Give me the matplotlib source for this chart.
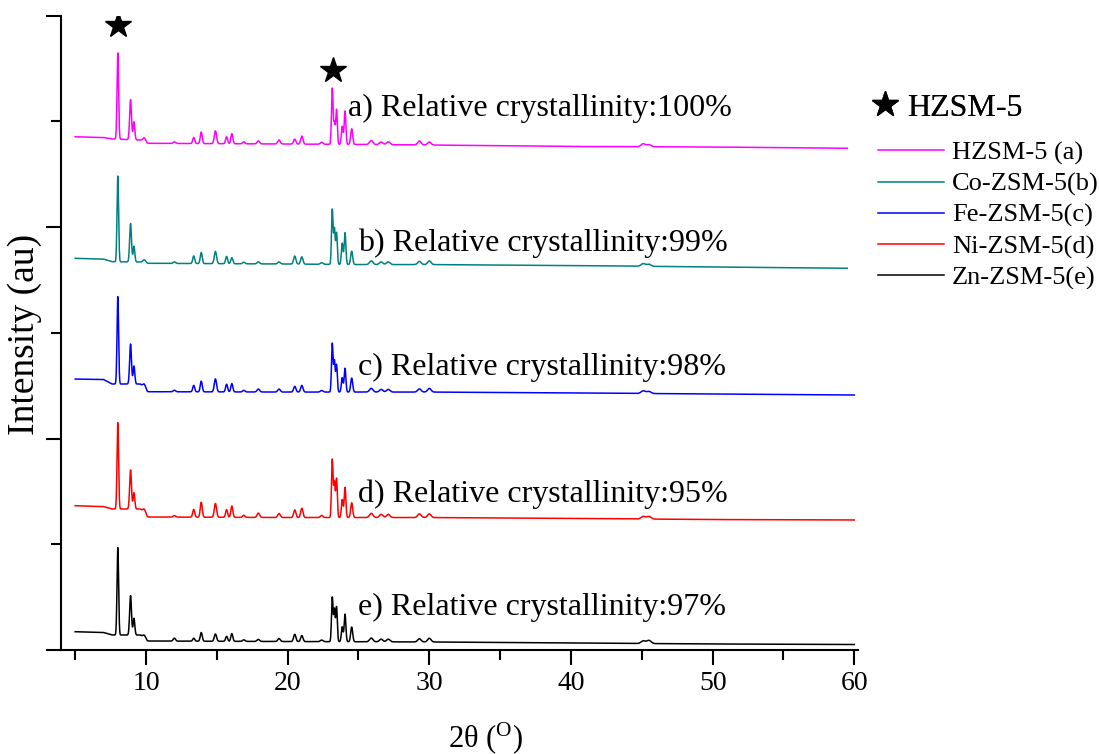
import numpy as np
import matplotlib.pyplot as plt
from matplotlib.lines import Line2D
from matplotlib.ticker import MultipleLocator

plt.rcParams['font.family'] = 'Liberation Serif'
plt.rcParams['mathtext.fontset'] = 'custom'
plt.rcParams['mathtext.rm'] = 'Liberation Serif'

# reflections (2theta in deg) and their widths (sigma, deg)
peak_pos = [8.01, 8.91, 9.15, 9.88, 12.0, 13.37, 13.9, 14.9, 15.69, 16.06, 16.9, 17.93, 19.39, 20.5, 21.0, 22.4,
            23.15, 23.30, 23.45, 23.85, 24.05, 24.52, 25.9, 26.6, 27.1, 29.3, 30.0, 45.1, 45.5]
peak_sig = [0.055, 0.065, 0.06, 0.1, 0.08, 0.07, 0.07, 0.08, 0.07, 0.07, 0.08, 0.09, 0.09, 0.08, 0.08, 0.09,
            0.055, 0.05, 0.055, 0.06, 0.06, 0.07, 0.12, 0.12, 0.12, 0.12, 0.12, 0.15, 0.15]

# peak heights above background for each sample (offset patterns)
h_a = [816, 378, 170, 38, 15, 57, 109, 121, 66, 95, 19, 28, 38, 47, 76, 19, 530, 200, 330, 170, 315, 148, 38, 25, 28, 38, 28, 28, 20]
h_b = [811, 363, 149, 28, 15, 72, 104, 116, 69, 57, 15, 19, 19, 76, 69, 15, 520, 330, 300, 200, 300, 126, 35, 25, 25, 30, 35, 25, 20]
h_c = [826, 378, 170, 40, 15, 61, 101, 123, 73, 79, 15, 28, 28, 54, 63, 15, 460, 290, 260, 135, 225, 132, 35, 25, 25, 30, 35, 25, 20]
h_d = [816, 369, 154, 40, 15, 73, 142, 130, 73, 107, 20, 41, 38, 73, 88, 20, 550, 330, 370, 170, 285, 139, 40, 30, 30, 35, 35, 25, 25]
h_e = [826, 372, 158, 30, 28, 28, 82, 69, 47, 73, 15, 19, 28, 69, 57, 15, 420, 300, 330, 140, 260, 139, 35, 25, 25, 30, 35, 25, 30]

# background level (2theta, intensity incl. stacking offset)
bg_a_x = [5, 7, 7.6, 9.6, 10.1, 20, 25, 30, 40, 50, 59.5]
bg_a_y = [4855, 4848, 4834, 4824, 4793, 4786, 4782, 4777, 4763, 4758, 4746]
bg_b_x = [5, 7, 7.6, 9.6, 10.1, 20, 25, 30, 40, 50, 59.5]
bg_b_y = [3705, 3698, 3673, 3670, 3658, 3651, 3646, 3646, 3637, 3623, 3611]
bg_c_x = [5, 7, 7.6, 9.6, 10.1, 20, 30, 40, 50, 60]
bg_c_y = [2563, 2559, 2516, 2516, 2443, 2440, 2440, 2431, 2422, 2412]
bg_d_x = [5, 7, 7.6, 9.6, 10.1, 20, 30, 40, 50, 60]
bg_d_y = [1365, 1357, 1334, 1334, 1258, 1253, 1253, 1244, 1234, 1230]
bg_e_x = [5, 7, 7.6, 9.6, 10.1, 20, 30, 40, 50, 60]
bg_e_y = [173, 166, 142, 142, 85, 80, 76, 66, 57, 52]

names = ['HZSM-5 (a)', 'Co-ZSM-5(b)', 'Fe-ZSM-5(c)', 'Ni-ZSM-5(d)', 'Zn-ZSM-5(e)']
colors = ['#ff00ff', '#008080', '#0000ff', '#ff0000', '#000000']
crystallinity = [100, 99, 98, 95, 97]
letters = ['a', 'b', 'c', 'd', 'e']
label_x = [24.27, 24.97, 24.97, 24.97, 24.97]
label_y = [5051, 3774, 2601, 1400, 331]

star_x = [8.0, 23.2]
star_y = [5912, 5486]


def pattern(bg_x, bg_y, heights):
    tt = np.arange(5.0, bg_x[-1] + 0.001, 0.01)
    y = np.interp(tt, bg_x, bg_y)
    for p, s, h in zip(peak_pos, peak_sig, heights):
        y = y + h * np.exp(-0.5 * ((tt - p) / s) ** 2)
    return tt, y


data = [(bg_a_x, bg_a_y, h_a), (bg_b_x, bg_b_y, h_b), (bg_c_x, bg_c_y, h_c),
        (bg_d_x, bg_d_y, h_d), (bg_e_x, bg_e_y, h_e)]

fig = plt.figure(figsize=(10.99, 7.54), dpi=100)
ax = fig.add_axes([61 / 1099, 104 / 754, 797 / 1099, 634.3 / 754])

lines = []
for (bx, by, hh), c in zip(data, colors):
    tt, y = pattern(bx, by, hh)
    ln, = ax.plot(tt, y, color=c, lw=1.1)
    lines.append(ln)

for i in range(5):
    ax.text(label_x[i], label_y[i], '%s) Relative crystallinity:%d%%' % (letters[i], crystallinity[i]),
            fontsize=23, ha='left', va='baseline')

ax.plot(star_x, star_y, ls='none', marker='*', ms=19, color='k')

ax.set_xlim(4.0, 60.26)
ax.set_ylim(0, 6000)
ax.xaxis.set_major_locator(MultipleLocator(10))
ax.xaxis.set_minor_locator(MultipleLocator(5))
ax.yaxis.set_major_locator(MultipleLocator(2000))
ax.yaxis.set_minor_locator(MultipleLocator(1000))
ax.set_yticklabels([])
ax.tick_params(axis='both', which='major', length=11, width=1.5, direction='out', labelsize=20, pad=4)
ax.tick_params(axis='both', which='minor', length=7, width=1.5, direction='out')
ax.tick_params(axis='x', which='minor', labelbottom=False)
ax.spines['top'].set_visible(False)
ax.spines['right'].set_visible(False)
ax.spines['left'].set_linewidth(1.5)
ax.spines['bottom'].set_linewidth(1.5)

ax.set_ylabel('Intensity (au)', fontsize=27)
ax.yaxis.set_label_coords(-0.024, 0.497)
ax.set_xlabel(r'2θ ($\mathregular{^{O}}$)', fontsize=22, va='top')
ax.xaxis.set_label_coords(0.533, -0.11)

star_handle = Line2D([], [], ls='none', marker='*', ms=19, color='k')
leg1 = fig.legend(handles=[star_handle], labels=['HZSM-5'], loc='center left',
                  bbox_to_anchor=(872 / 1099, 1 - 108 / 754), frameon=False, fontsize=23,
                  handlelength=0.8, handletextpad=0.3, borderpad=0, borderaxespad=0)
leg2 = fig.legend(handles=lines, labels=names, loc='upper left',
                  bbox_to_anchor=(878 / 1099, 1 - 141 / 754), frameon=False, fontsize=19,
                  handlelength=2.5, handletextpad=0.3, labelspacing=0.28, borderpad=0, borderaxespad=0)
fig.add_artist(leg1)

fig.savefig('out.png', dpi=100)
